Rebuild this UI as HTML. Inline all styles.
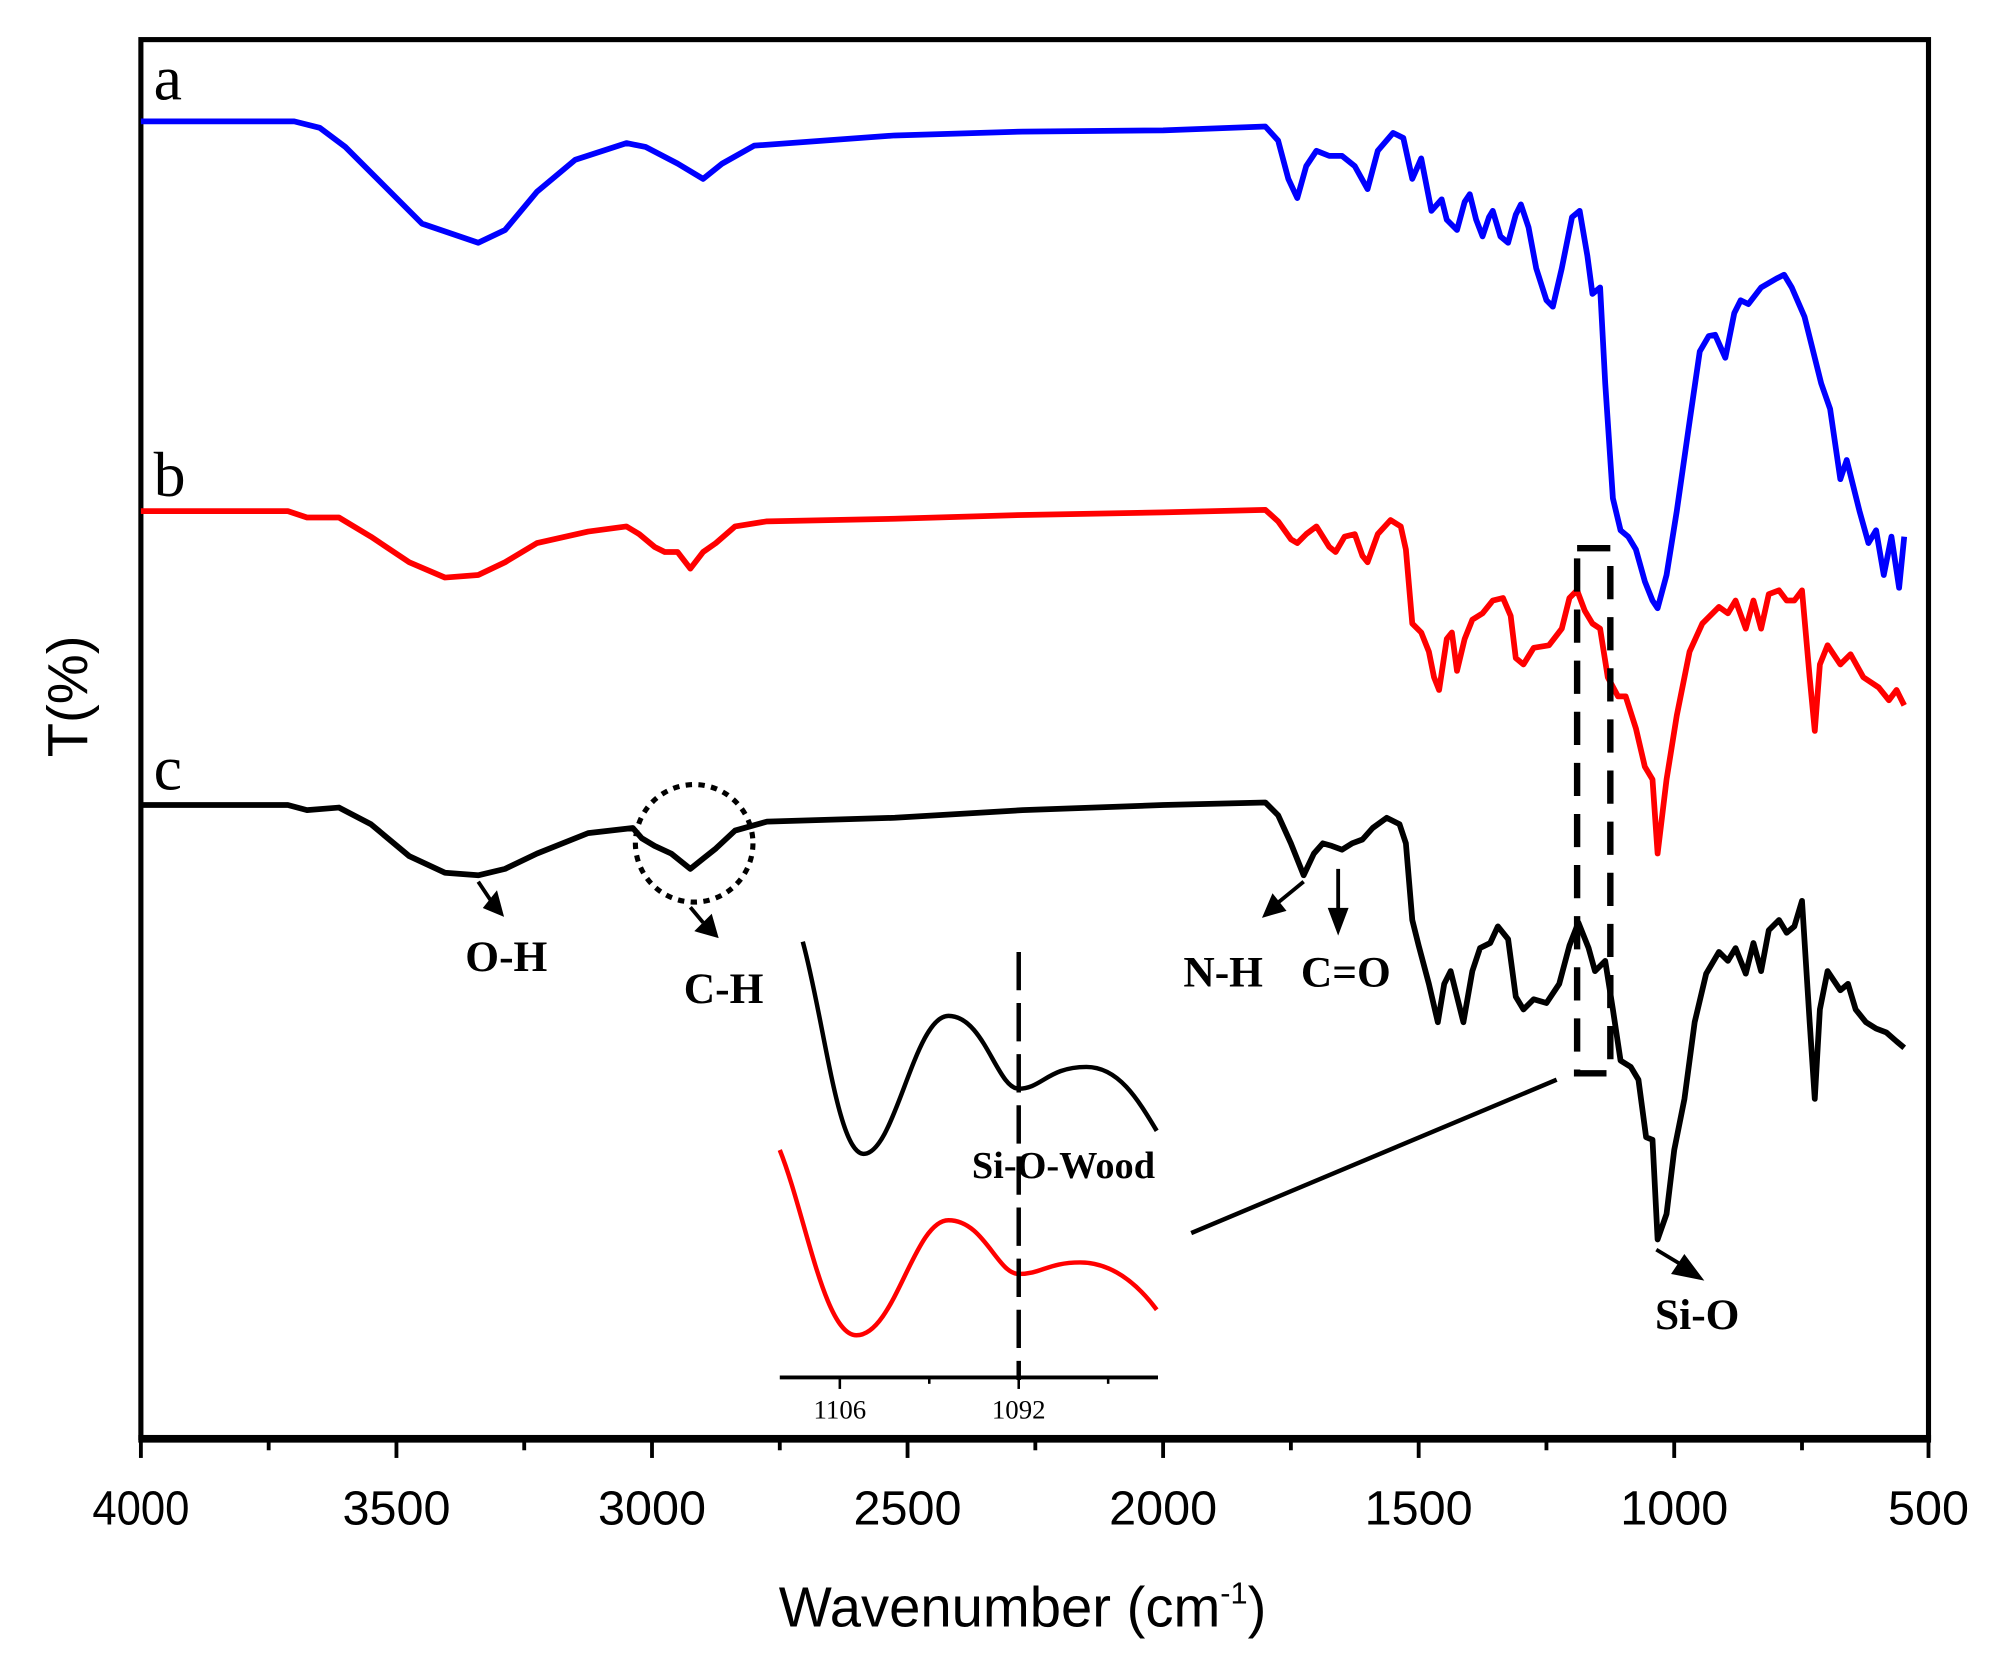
<!DOCTYPE html>
<html><head><style>html,body{margin:0;padding:0;background:#fff}svg{display:block}</style></head>
<body>
<svg width="1994" height="1679" viewBox="0 0 1560 1314" xmlns="http://www.w3.org/2000/svg" font-family="Liberation Serif, serif">
<rect x="0" y="0" width="1560" height="1314" fill="#fff"/>
<rect x="110" y="31" width="1399" height="1094" fill="none" stroke="#000" stroke-width="4"/>
<line x1="108" y1="1126" x2="1511" y2="1126" stroke="#000" stroke-width="6"/>
<g stroke="#000" stroke-width="3">
<line x1="110" y1="1126" x2="110" y2="1141"/><line x1="310" y1="1126" x2="310" y2="1141"/><line x1="510" y1="1126" x2="510" y2="1141"/><line x1="710" y1="1126" x2="710" y2="1141"/><line x1="910" y1="1126" x2="910" y2="1141"/><line x1="1110" y1="1126" x2="1110" y2="1141"/><line x1="1310" y1="1126" x2="1310" y2="1141"/><line x1="1509" y1="1126" x2="1509" y2="1141"/>
<line x1="210" y1="1126" x2="210" y2="1135"/><line x1="410" y1="1126" x2="410" y2="1135"/><line x1="610" y1="1126" x2="610" y2="1135"/><line x1="810" y1="1126" x2="810" y2="1135"/><line x1="1010" y1="1126" x2="1010" y2="1135"/><line x1="1210" y1="1126" x2="1210" y2="1135"/><line x1="1410" y1="1126" x2="1410" y2="1135"/>
</g>
<g font-family="Liberation Sans, sans-serif" font-size="38" text-anchor="middle" fill="#000">
<text x="110" y="1193" textLength="76" lengthAdjust="spacingAndGlyphs">4000</text><text x="310" y="1193">3500</text><text x="510" y="1193">3000</text><text x="710" y="1193">2500</text><text x="910" y="1193">2000</text><text x="1110" y="1193">1500</text><text x="1310" y="1193">1000</text><text x="1509" y="1193">500</text>
<text x="800" y="1273" font-size="44">Wavenumber (cm<tspan dy="-18" font-size="24">-1</tspan><tspan dy="18">)</tspan></text>
<text transform="translate(68,545) rotate(-90)" font-size="44">T(%)</text>
</g>
<g fill="none" stroke-width="4.5" stroke-linejoin="round">
<polyline stroke="#0000ff" points="110,95 230,95 250,100 270,115 300,145 330,175 374,190 395,180 420,150 450,125 490,112 505,115 530,128 550,140 565,128 590,114 700,106 800,103 910,102 990,99 1000,110 1008,140 1015,155 1022,130 1030,118 1040,122 1050,122 1060,130 1070,148 1078,118 1090,104 1098,108 1105,140 1112,124 1120,165 1128,156 1132,172 1140,180 1146,158 1150,152 1155,172 1160,185 1165,170 1168,165 1174,185 1180,190 1186,168 1190,160 1196,178 1202,210 1210,235 1215,240 1222,210 1230,170 1236,165 1242,200 1246,230 1252,225 1256,300 1262,390 1268,415 1274,420 1280,430 1287,455 1293,470 1297,476 1304,450 1312,400 1322,330 1330,275 1337,263 1342,262 1350,280 1357,245 1362,235 1368,238 1378,225 1390,218 1396,215 1402,225 1412,248 1425,300 1432,320 1440,375 1445,360 1455,400 1462,425 1468,415 1474,450 1480,420 1486,460 1490,420"/>
<polyline stroke="#ff0000" points="110,400 225,400 240,405 265,405 290,420 320,440 348,452 374,450 395,440 420,425 460,416 490,412 500,418 512,428 520,432 530,432 540,445 550,432 560,425 575,412 600,408 700,406 800,403 910,401 990,399 1000,408 1010,422 1015,425 1022,418 1030,412 1040,428 1045,432 1052,420 1060,418 1066,435 1070,440 1078,418 1088,407 1096,412 1100,430 1105,488 1112,495 1118,510 1122,530 1126,540 1132,500 1136,495 1140,525 1146,500 1152,485 1160,480 1168,470 1176,468 1182,482 1186,515 1192,520 1200,507 1212,505 1222,492 1228,468 1234,462 1240,478 1246,488 1252,492 1258,530 1266,545 1272,545 1280,570 1287,600 1293,610 1297,668 1304,610 1312,560 1322,510 1332,488 1345,475 1352,480 1358,470 1366,492 1372,470 1378,492 1384,465 1392,462 1398,470 1404,470 1410,462 1416,530 1420,572 1424,520 1430,505 1440,520 1448,512 1458,530 1470,538 1478,548 1484,540 1490,552"/>
<polyline stroke="#000" points="110,630 225,630 240,634 265,632 290,645 320,670 348,683 374,685 395,680 420,668 460,652 495,648 502,656 512,662 525,668 540,680 550,672 560,664 575,650 600,643 700,640 800,634 910,630 990,628 1000,638 1010,660 1020,685 1028,668 1035,660 1042,662 1050,665 1058,660 1066,657 1074,648 1085,640 1095,645 1100,660 1105,720 1110,740 1118,770 1125,800 1130,770 1135,760 1140,780 1145,800 1152,760 1158,742 1166,738 1172,725 1180,735 1186,780 1192,790 1200,782 1210,785 1220,770 1228,740 1235,722 1243,742 1248,760 1256,752 1262,790 1268,830 1276,835 1282,845 1288,890 1293,892 1297,970 1304,950 1310,900 1318,860 1326,800 1335,762 1345,745 1352,752 1358,742 1366,762 1372,738 1378,760 1384,728 1392,720 1398,730 1404,725 1410,705 1416,800 1420,860 1424,790 1430,760 1440,775 1446,770 1452,790 1460,800 1468,805 1476,808 1484,815 1490,820"/>
</g>
<g font-size="50" fill="#000"><text x="120" y="78">a</text><text x="120" y="388">b</text><text x="120" y="618">c</text></g>
<g font-size="34" font-weight="bold" fill="#000" text-anchor="middle">
<text x="396" y="760">O-H</text><text x="566" y="785">C-H</text><text x="957" y="772">N-H</text><text x="1053" y="772">C=O</text><text x="1328" y="1040">Si-O</text>
<text x="832" y="922" font-size="30">Si-O-Wood</text>
</g>
<g stroke="#000" stroke-width="3" fill="#000">
<line x1="374" y1="690" x2="384" y2="705"/><polygon points="380,710 392,715 388,700"/>
<line x1="540" y1="710" x2="550" y2="722"/><polygon points="546,728 560,732 556,718"/>
<line x1="1020" y1="690" x2="998" y2="708"/><polygon points="990,716 1004,712 996,702"/>
<line x1="1047" y1="680" x2="1047" y2="712"/><polygon points="1041,712 1053,712 1047,728"/>
<line x1="1296" y1="978" x2="1316" y2="990"/><polygon points="1310,996 1330,1000 1318,984"/>
</g>
<circle cx="543" cy="660" r="46" fill="none" stroke="#000" stroke-width="4" stroke-dasharray="5,5"/>
<rect x="1234" y="429" width="26" height="411" fill="none" stroke="#000" stroke-width="5" stroke-dasharray="26,14"/>
<line x1="1218" y1="845" x2="932" y2="965" stroke="#000" stroke-width="3.5"/>
<g fill="none" stroke-width="3.5">
<path stroke="#000" d="M628,737 C645,800 655,900 675,903 C700,905 715,795 742,795 C770,795 780,852 797,852 C815,852 820,835 850,835 C875,835 890,860 905,885"/>
<path stroke="#ff0000" d="M610,900 C630,950 645,1045 670,1045 C700,1045 715,955 742,955 C770,955 780,997 797,997 C815,997 820,988 845,988 C870,988 890,1005 905,1025"/>
</g>
<line x1="797" y1="745" x2="797" y2="1080" stroke="#000" stroke-width="3.5" stroke-dasharray="30,10"/>
<line x1="610" y1="1078" x2="906" y2="1078" stroke="#000" stroke-width="3"/>
<g stroke="#000" stroke-width="2"><line x1="657" y1="1078" x2="657" y2="1087"/><line x1="727" y1="1078" x2="727" y2="1083"/><line x1="797" y1="1078" x2="797" y2="1087"/><line x1="867" y1="1078" x2="867" y2="1083"/></g>
<g font-size="21" text-anchor="middle" fill="#000"><text x="657" y="1110">1106</text><text x="797" y="1110">1092</text></g>
</svg>
</body></html>
